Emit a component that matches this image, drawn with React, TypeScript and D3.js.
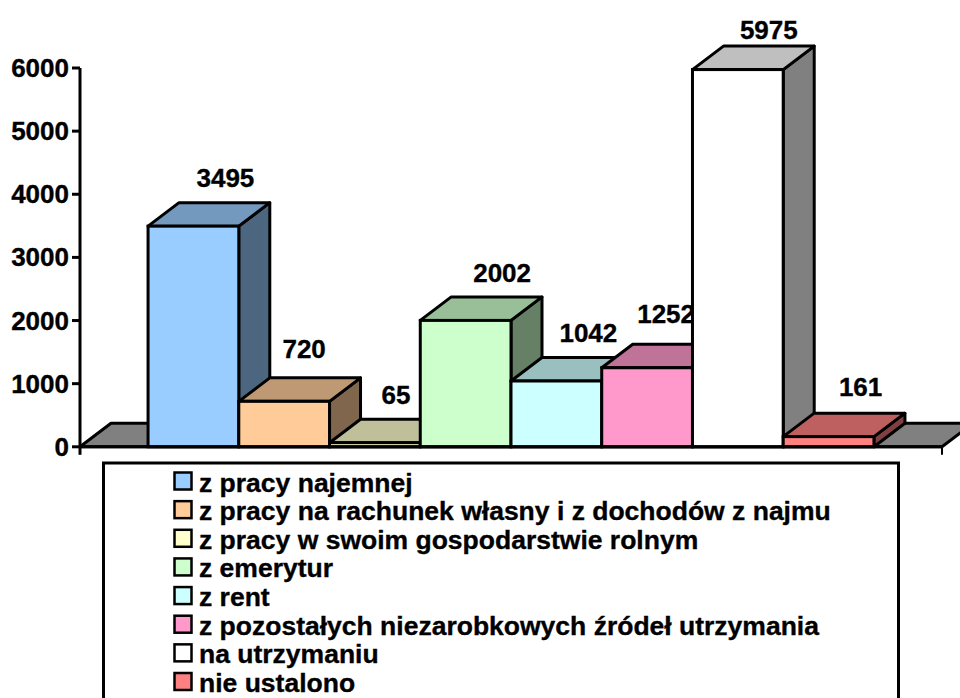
import React from "react";
import * as d3 from "d3";

const categories = [
  "z pracy najemnej",
  "z pracy na rachunek własny i z dochodów z najmu",
  "z pracy w swoim gospodarstwie rolnym",
  "z emerytur",
  "z rent",
  "z pozostałych niezarobkowych źródeł utrzymania",
  "na utrzymaniu",
  "nie ustalono",
];
const values = [3495, 720, 65, 2002, 1042, 1252, 5975, 161];
const colors = ["#99CCFF", "#FFCC99", "#FFFFCC", "#CCFFCC", "#CCFFFF", "#FF99CC", "#FFFFFF", "#FF8080"];
const yTicks = [0, 1000, 2000, 3000, 4000, 5000, 6000];
// manual data-label displacement from the bar's top-centre
const labelDx = [32, 20, 21, 36.5, 32, 19, 31, 32];
const labelDy = [-48, -52, -48, -47, -48, -54, -40, -50];

const FONT = "'Liberation Sans', Arial, sans-serif";
const DX = 31;
const DY = 23.5;
const SW = 3;
const Y0 = 446.8;

const y = d3.scaleLinear().domain([0, 6000]).range([Y0, 68]);
const x = d3.scaleBand<string>().domain(categories).range([80, 942]).paddingInner(0).paddingOuter(0.75);
const legendY = d3.scalePoint<string>().domain(categories).range([482.5, 683]);

const shade = (c: string, k: number) => {
  const r = d3.rgb(c);
  return d3.rgb(r.r * k, r.g * k, r.b * k).formatHex();
};
const poly = (p: [number, number][]) => d3.line()(p) + "Z";

const textStyle = { stroke: "#000", strokeWidth: 0.35 };

export default function App() {
  const x0 = x.range()[0];
  const x1 = x.range()[1];
  return (
    <svg width={960} height={698} style={{ position: "absolute", left: 0, top: 0, background: "#fff" }} fontFamily={FONT} fontWeight="bold">
      {/* floor */}
      <path
        d={poly([[x0, Y0], [x0 + DX, Y0 - DY], [x1 + DX, Y0 - DY], [x1, Y0]])}
        fill="#808080"
        stroke="#000"
        strokeWidth={SW}
        strokeLinejoin="round"
      />
      {/* bars with their labels, back to front in category order */}
      {categories.map((c, i) => {
        const bx = x(c)!;
        const w = x.bandwidth();
        const top = y(values[i]);
        return (
          <g key={c}>
            <path
              d={poly([[bx + w, Y0], [bx + w + DX, Y0 - DY], [bx + w + DX, top - DY], [bx + w, top]])}
              fill={shade(colors[i], 0.5)}
              stroke="#000"
              strokeWidth={SW}
              strokeLinejoin="round"
            />
            <path
              d={poly([[bx, top], [bx + DX, top - DY], [bx + w + DX, top - DY], [bx + w, top]])}
              fill={shade(colors[i], 0.75)}
              stroke="#000"
              strokeWidth={SW}
              strokeLinejoin="round"
            />
            <rect x={bx} y={top} width={w} height={Y0 - top} fill={colors[i]} stroke="#000" strokeWidth={SW} />
            <text
              x={bx + w / 2 + labelDx[i]}
              y={top + labelDy[i]}
              textAnchor="middle"
              dominantBaseline="central"
              fontSize={26}
              style={textStyle}
            >
              {values[i]}
            </text>
          </g>
        );
      })}
      {/* axes */}
      <line x1={x0} x2={x0} y1={y(6000)} y2={Y0} stroke="#000" strokeWidth={SW} />
      <line x1={x0} x2={x1} y1={Y0} y2={Y0} stroke="#000" strokeWidth={SW} />
      <line x1={x0} x2={x0} y1={Y0} y2={Y0 + 8} stroke="#000" strokeWidth={SW} />
      <line x1={x1} x2={x1} y1={Y0} y2={Y0 + 8} stroke="#000" strokeWidth={2} />
      {yTicks.map((t) => (
        <g key={t}>
          <line x1={x0 - 8} x2={x0} y1={y(t)} y2={y(t)} stroke="#000" strokeWidth={SW} />
          <text x={69} y={y(t)} textAnchor="end" dominantBaseline="central" fontSize={26} style={textStyle}>
            {t}
          </text>
        </g>
      ))}
      {/* legend */}
      <rect x={103.5} y={463} width={795} height={260} fill="#fff" stroke="#000" strokeWidth={3} />
      {categories.map((c, i) => (
        <g key={c}>
          <rect x={174.5} y={legendY(c)! - 10} width={17} height={17} fill={colors[i]} stroke="#000" strokeWidth={2.5} />
          <text x={199} y={legendY(c)!} dominantBaseline="central" fontSize={26.5} style={textStyle}>
            {c}
          </text>
        </g>
      ))}
    </svg>
  );
}
